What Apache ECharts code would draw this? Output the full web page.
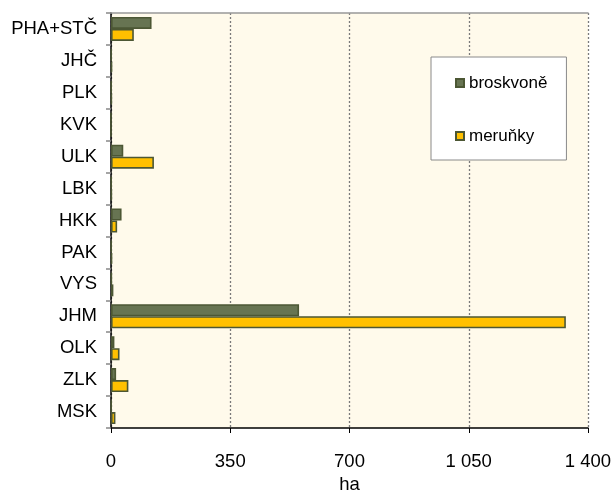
<!DOCTYPE html>
<html>
<head>
<meta charset="utf-8">
<script src="https://cdn.jsdelivr.net/npm/echarts@6/dist/echarts.min.js"></script>
<style>html,body{margin:0;padding:0;background:#fff;}#c{width:611px;height:491px;}</style>
</head>
<body>
<div id="c"></div>
<script>
var categories = ['PHA+STČ','JHČ','PLK','KVK','ULK','LBK','HKK','PAK','VYS','JHM','OLK','ZLK','MSK'];
var broskvone = [119, 1, 1, 0, 36, 1, 31, 1, 2, 552, 10, 15, 1];
var merunky = [67, 3, 2, 0, 126, 2, 18, 3, 7, 1335, 25, 51, 13];
var xTicks = [0, 350, 700, 1050, 1400];

function fmt(v){ return String(v).replace(/\B(?=(\d{3})+(?!\d))/g, ' '); }

var chart = echarts.init(document.getElementById('c'));
var font = 'Liberation Sans, Arial, sans-serif';
chart.setOption({
  animation: false,
  backgroundColor: '#ffffff',
  grid: { left: 111, right: 23, top: 13, bottom: 63, show: true, backgroundColor: '#FFFAEB', borderWidth: 0, containLabel: false, outerBoundsMode: 'none' },
  legend: {
    orient: 'vertical', left: 431, top: 57,
    padding: [16, 19, 14, 24],
    backgroundColor: '#ffffff', borderColor: '#8a8a8a', borderWidth: 1,
    itemWidth: 8, itemHeight: 8, itemGap: 33, itemTextGap: 3,
    icon: 'rect',
    textStyle: { fontFamily: font, fontSize: 17, color: '#000', lineHeight: 20 },
    data: ['broskvoně', 'meruňky']
  },
  xAxis: [{
    type: 'value', min: xTicks[0], max: xTicks[xTicks.length - 1], interval: 350,
    name: 'ha', nameLocation: 'middle', nameGap: 43,
    nameTextStyle: { fontFamily: font, fontSize: 18.5, color: '#000' },
    axisLine: { show: true, lineStyle: { color: '#000', width: 1.5 } },
    axisTick: { show: true, length: 5, lineStyle: { color: '#000' } },
    axisLabel: { fontFamily: font, fontSize: 18.5, color: '#000', margin: 24, formatter: fmt },
    splitLine: { show: true, lineStyle: { color: '#7a7a7a', type: [2, 2], width: 1.3 } }
  }, {
    type: 'value', position: 'top', min: 0, max: 1400,
    axisLine: { show: true, lineStyle: { color: '#999', width: 1.5 } },
    axisTick: { show: false }, axisLabel: { show: false }, splitLine: { show: false }
  }],
  yAxis: {
    type: 'category', inverse: true, data: categories,
    axisLine: { show: true, lineStyle: { color: '#000', width: 1.5 } },
    axisTick: { show: true, length: 5, alignWithLabel: false, lineStyle: { color: '#888', width: 1.5 } },
    axisLabel: { fontFamily: font, fontSize: 18.5, color: '#000', margin: 14 },
    splitLine: { show: false }
  },
  series: [{
    name: 'broskvoně', type: 'bar', data: broskvone, barWidth: 12, barGap: '0%',
    itemStyle: { color: '#677452', borderColor: '#4C5734', borderWidth: 1.6 }
  }, {
    name: 'meruňky', type: 'bar', data: merunky, barWidth: 12, barGap: '0%',
    itemStyle: { color: '#FFC000', borderColor: '#4C5734', borderWidth: 1.6 }
  }]
});
</script>
</body>
</html>
